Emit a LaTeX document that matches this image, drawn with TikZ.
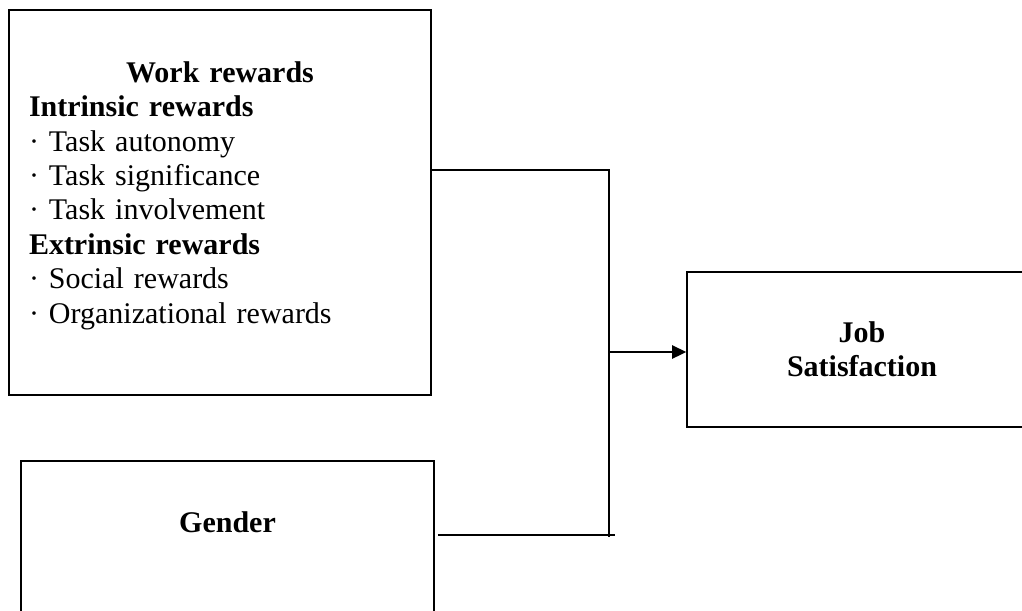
\documentclass[tikz,border=0pt]{standalone}
\usepackage{fontspec}
\setmainfont{Liberation Serif}
\usetikzlibrary{arrows.meta}

\begin{document}
\begin{tikzpicture}[x=0.75pt,y=-0.75pt,>={Triangle[length=10.5pt,width=10pt]},line width=1.3pt,
                    box node/.style={rectangle,draw=black,inner sep=0pt,font=\fontsize{22.5}{25.8}\selectfont},
                    head node/.style={box node,font=\fontsize{22.5}{25.8}\selectfont\bfseries}]
                    \useasboundingbox (0,0) rectangle (1022,611);
                    \node[box node, minimum width=316.5pt, minimum height=288.75pt, text width=286.5pt, align=left] (work) at (220,202.5)
                        {\makebox[\linewidth]{\bfseries Work rewards}\\
                         \textbf{Intrinsic rewards}\\
                         · Task autonomy\\
                         · Task significance\\
                         · Task involvement\\
                         \textbf{Extrinsic rewards}\\
                         · Social rewards\\
                         · Organizational rewards\rule[-15.4pt]{0pt}{15.4pt}};
                    \node[head node, minimum width=309.75pt, text height=54pt, text depth=150pt, anchor=north] (gender) at (227.5,460) {Gender};
                    \node[head node, minimum width=262.5pt, minimum height=116.25pt, align=center] (job) at (862,349.5) {Job\\Satisfaction};

                    \coordinate (split) at (609,170);
                    \coordinate (merge) at (609,537);
                    \coordinate (tail) at (615,535);
                    \coordinate (entry) at (609,352);
                    \draw (work.east |- split) -- (split) -- (merge);
                    \draw ([xshift=2.25pt]gender.east |- tail) -- (tail);
                    \draw[->] (entry) -- (job.west |- entry);
                \end{tikzpicture}
\end{document}
